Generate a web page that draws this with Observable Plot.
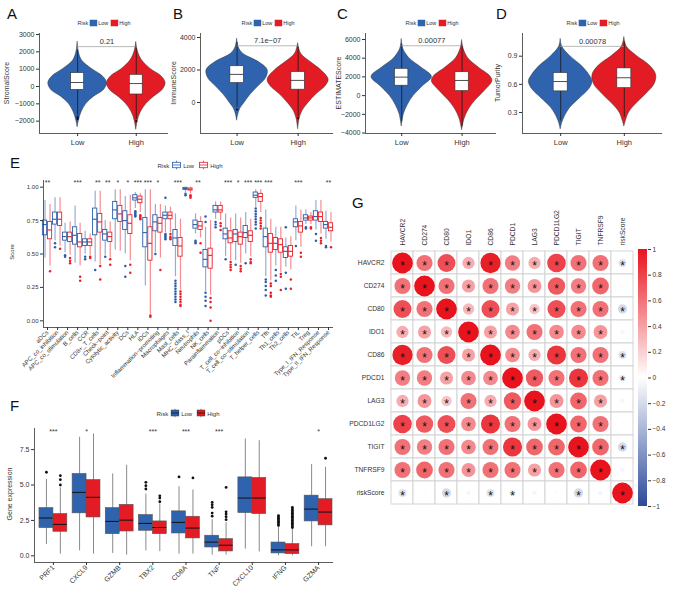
<!DOCTYPE html>
<html><head><meta charset="utf-8">
<script src="https://cdn.jsdelivr.net/npm/d3@7"></script>
<script src="https://cdn.jsdelivr.net/npm/@observablehq/plot@0.6"></script>
<style>
body{margin:0;background:#fff;font-family:"Liberation Sans",Arial,sans-serif;}
#fig{position:relative;width:675px;height:592px;overflow:hidden;background:#fff}
.plab{position:absolute;font-size:15px;line-height:1;color:#111}
.ylab{position:absolute;transform:translate(-50%,-50%) rotate(-90deg);white-space:nowrap;color:#333;line-height:1}
.leg{position:absolute;display:flex;align-items:center;white-space:nowrap;color:#333;transform:translate(-50%,-50%);line-height:1}
.leg svg{display:block}
</style></head><body><div id="fig"></div>
<script>
// ---------------- DATA ----------------
const riskGroups = ["Low", "High"];

// A: StromalScore  (violin profile: [value, relative half-width])
const stromalViolinLow  = [[2560,0],[2000,0.04],[1500,0.15],[1000,0.5],[600,0.85],[200,1],[-200,0.9],[-600,0.55],[-1000,0.3],[-1500,0.13],[-2000,0.04],[-2350,0]];
const stromalViolinHigh = [[2550,0],[2000,0.06],[1500,0.2],[1000,0.5],[600,0.85],[200,1],[-200,0.9],[-600,0.6],[-1000,0.35],[-1500,0.15],[-2000,0.05],[-2500,0]];
const stromalBoxLow  = [-1700,-190,230,770,2100];
const stromalBoxHigh = [-1900,-460,170,670,2200];
const stromalOutLow  = [-1760,-1820,-1880];
const stromalOutHigh = [-2000];
const stromalTicks = [-2000,-1000,0,1000,2000,3000];

// B: ImmuneScore
const immuneViolinLow  = [[3900,0],[3400,0.05],[3000,0.2],[2500,0.7],[2000,1.0],[1500,0.95],[1000,0.7],[500,0.45],[0,0.25],[-400,0.1],[-800,0.03],[-1120,0]];
const immuneViolinHigh = [[3630,0],[3000,0.1],[2500,0.4],[2000,0.75],[1400,1.0],[1000,0.9],[500,0.6],[0,0.35],[-500,0.15],[-1000,0.05],[-1650,0]];
const immuneBoxLow  = [-300,1200,1730,2230,3700];
const immuneBoxHigh = [-900,790,1360,1870,3400];
const immuneOutLow  = [-430];
const immuneOutHigh = [-975];
const immuneTicks = [0,2000,4000];

// C: ESTIMATEScore
const estimateViolinLow  = [[6000,0],[5000,0.05],[4000,0.25],[3000,0.65],[2000,1.0],[1000,0.7],[0,0.4],[-1000,0.2],[-2000,0.07],[-3300,0]];
const estimateViolinHigh = [[5900,0],[5000,0.05],[4000,0.2],[3000,0.55],[2000,0.95],[1500,1.0],[500,0.75],[-500,0.45],[-1500,0.22],[-2500,0.08],[-3700,0]];
const estimateBoxLow  = [-2800,1060,1975,2860,5500];
const estimateBoxHigh = [-3300,490,1620,2500,5300];
const estimateTicks = [-4000,-2000,0,2000,4000,6000];

// D: TumorPurity
const purityViolinLow  = [[1.08,0],[1.0,0.05],[0.9,0.3],[0.8,0.65],[0.7,0.9],[0.63,1.0],[0.55,0.9],[0.45,0.6],[0.35,0.3],[0.25,0.12],[0.18,0.04],[0.12,0]];
const purityViolinHigh = [[1.1,0],[1.0,0.08],[0.9,0.4],[0.8,0.8],[0.7,1.0],[0.6,0.95],[0.5,0.7],[0.4,0.4],[0.3,0.15],[0.2,0.04],[0.15,0]];
const purityBoxLow  = [0.21,0.525,0.63,0.72,0.99];
const purityBoxHigh = [0.25,0.56,0.67,0.77,1.05];
const purityTicks = [0.3,0.6,0.9];

const pValues = ["0.21","7.1e\u221207","0.00077","0.00078"];

// E: ssGSEA scores, [lower whisker, q1, median, q3, upper whisker]
const eCats = ["aDCs","APC_co_inhibition","APC_co_stimulation","B_cells","CCR","CD8+_T_cells","Check\u2212point","Cytolytic_activity","DCs","HLA","iDCs","Inflammation\u2212promoting","Macrophages","Mast_cells","MHC_class_I","Neutrophils","NK_cells","Parainflammation","pDCs","T_cell_co\u2212inhibition","T_cell_co\u2212stimulation","T_helper_cells","Tfh","Th1_cells","Th2_cells","TIL","Treg","Type_I_IFN_Response","Type_II_IFN_Response"];
const eLow = [[.47,.64,.72,.75,.90],[.60,.72,.76,.81,.92],[.51,.60,.63,.66,.73],[.43,.57,.64,.70,.86],[.50,.56,.59,.61,.67],[.44,.64,.76,.84,.97],[.49,.60,.65,.68,.75],[.53,.76,.83,.89,.98],[.50,.68,.75,.82,.93],[.84,.90,.92,.94,.96],[.26,.55,.66,.77,.98],[.51,.67,.74,.79,.87],[.66,.76,.79,.81,.86],[.33,.56,.62,.68,.80],[.96,.98,.99,.995,1.0],[.65,.69,.72,.75,.80],[.22,.40,.46,.53,.70],[.76,.81,.83,.86,.89],[.48,.61,.65,.69,.80],[.45,.59,.65,.68,.80],[.50,.62,.66,.71,.81],[.85,.92,.94,.96,.98],[.33,.55,.63,.69,.83],[.41,.53,.58,.62,.70],[.40,.47,.52,.55,.62],[.60,.70,.74,.76,.86],[.72,.75,.77,.79,.83],[.68,.75,.78,.82,.90],[.61,.69,.72,.74,.82]];
const eHigh = [[.41,.61,.68,.74,.87],[.56,.71,.76,.81,.92],[.49,.59,.63,.66,.74],[.41,.55,.59,.65,.73],[.49,.56,.59,.61,.65],[.42,.66,.74,.80,.97],[.47,.59,.63,.66,.74],[.52,.74,.80,.86,.98],[.45,.65,.73,.79,.94],[.81,.88,.91,.93,.95],[.05,.45,.58,.70,.98],[.47,.66,.73,.77,.87],[.66,.76,.79,.81,.85],[.23,.48,.56,.62,.76],[.95,.975,.985,.99,1.0],[.62,.68,.71,.74,.78],[.19,.39,.49,.54,.75],[.75,.81,.83,.86,.89],[.45,.58,.62,.67,.77],[.43,.57,.63,.66,.77],[.48,.59,.64,.67,.76],[.81,.89,.93,.95,.98],[.30,.51,.58,.65,.76],[.36,.51,.57,.61,.70],[.38,.48,.52,.56,.63],[.55,.66,.71,.74,.83],[.72,.75,.77,.78,.81],[.65,.74,.78,.81,.90],[.59,.67,.70,.73,.81]];
const eLowOut = [[],[.58,.55],[.49,.48],[],[.48,.46],[.38],[.48],[],[.41,.33],[.82,.81,.80,.79,.78],[],[.50],[.92,.65,.64,.63,.62,.61],[.30,.28,.26,.24,.22,.20,.18,.16,.14],[.95,.94],[.60,.59,.58],[.78,.74,.21,.18,.15,.11],[.74,.72,.70],[.46],[.42],[.43],[.84,.82,.80,.78,.76,.74,.72,.69],[.31,.29,.26,.23,.19],[.38,.34,.30],[.70,.36,.24],[.56],[.70,.69],[.65,.60],[.56,.55]];
const eHighOut = [[.37],[.54],[.47,.45,.43],[.33,.30],[.48,.47],[.41,.31],[.46,.42],[],[.42,.36],[.79,.78,.77,.76],[.04,.03],[.38],[.65,.63,.62,.61],[.22,.20,.18,.16,.14,.12,.11],[.94,.93,.92],[.58,.51],[.17,.14,.10,.00],[.73,.71,.68],[.44,.42,.40,.38],[.41,.39,.37],[.46,.44,.43],[.77,.75,.73,.71,.69],[.28,.26,.21,.19,.18],[.35,.33,.23],[.31,.24],[.51,.48],[.70,.69],[.62,.60,.58],[.55]];
const eStars = ["**","","","***","","**","**","*","*","***","***","*","","***","","**","","","***","*","***","***","***","","","***","","","**"];
const eTicks = [0,0.25,0.5,0.75,1];

// F: gene expression
const fGenes = ["PRF1","CXCL9","GZMB","TBX2","CD8A","TNF","CXCL10","IFNG","GZMA"];
const fLow  = [[0.8,1.96,2.67,3.37,5.4],[0.35,3.0,4.48,5.78,8.37],[0.17,1.53,2.43,3.37,5.78],[0.35,1.77,2.29,2.88,4.36],[0.12,1.58,2.36,3.14,4.88],[0.05,0.59,0.97,1.42,2.55],[0.47,3.02,4.08,5.54,8.25],[0,0.17,0.42,0.94,2.05],[0.64,2.43,3.30,4.25,6.44]];
const fHigh = [[0.12,1.70,2.22,2.95,4.8],[0.12,2.71,4.13,5.35,8.6],[0.05,1.72,2.52,3.6,6.4],[0.3,1.53,2.0,2.43,3.65],[0.12,1.23,1.96,2.76,4.65],[0.05,0.31,0.75,1.18,2.35],[0.28,2.95,4.08,5.5,8.13],[0,0.12,0.42,0.83,1.95],[0.64,2.15,3.09,4.0,6.25]];
const fLowOut  = [[5.9],[],[],[5.19,4.95,4.72],[5.57],[3.77,3.6,3.42,3.02,2.8],[],[2.15,2.25,2.35,2.45,2.55,2.65,2.75,2.83],[]];
const fHighOut = [[5.66,5.38,5.0],[],[],[4.24,4.08,3.82],[5.5],[4.83,3.11,2.95,2.76,2.55],[],[2.0,2.1,2.2,2.3,2.4,2.5,2.6,2.7,2.8,2.9,3.0,3.1,3.2,3.3,3.42],[6.89]];
const fStars = ["***","*","","***","***","***","","","*"];
const fTicks = [0,2.5,5,7.5];

// G: correlation matrix
const gGenes = ["HAVCR2","CD274","CD80","IDO1","CD86","PDCD1","LAG3","PDCD1LG2","TIGIT","TNFRSF9","riskScore"];
const gCorr = [
 [1,.6,.75,.35,.95,.55,.35,.8,.6,.6,-.15],
 [.6,1,.6,.4,.6,.55,.45,.7,.55,.65,-.02],
 [.75,.6,1,.3,.75,.4,.25,.75,.6,.6,-.2],
 [.35,.4,.3,1,.4,.5,.6,.5,.5,.45,-.05],
 [.95,.6,.75,.4,1,.5,.35,.85,.6,.6,-.15],
 [.55,.55,.4,.5,.5,1,.7,.6,.85,.6,-.1],
 [.35,.45,.25,.6,.35,.7,1,.45,.65,.4,-.05],
 [.8,.7,.75,.5,.85,.6,.45,1,.65,.6,-.02],
 [.6,.55,.6,.5,.6,.85,.65,.65,1,.65,-.2],
 [.6,.65,.6,.45,.6,.6,.4,.6,.65,1,-.05],
 [-.15,-.02,-.2,-.05,-.15,-.1,-.05,-.02,-.2,-.05,1]
];
const gNotSigWithRisk = ["CD274","IDO1","LAG3","PDCD1LG2","TNFRSF9"];
const gTicks = [-1,-0.8,-0.6,-0.4,-0.2,0,0.2,0.4,0.6,0.8,1];

// ---------------- STYLE ----------------
const FONT = "Liberation Sans, Arial, sans-serif";
const vBlue = "#2F63AD", vRed = "#E31B24";
const eBlue = "#2D5DA8", eRed = "#E8202A";
const cBlue = "#2B4A99", cRed = "#E8131C";

const fig = document.getElementById("fig");
function put(el, left, top){ el.style.position="absolute"; el.style.left=left+"px"; el.style.top=top+"px"; fig.appendChild(el); return el; }
function div(cls, text, css){ const d=document.createElement("div"); d.className=cls; if(text!=null) d.textContent=text; Object.assign(d.style, css||{}); fig.appendChild(d); return d; }
function plab(t, l, tp){ div("plab", t, {left:l+"px", top:tp+"px"}); }
function ylab(t, cx, cy, fs){ div("ylab", t, {left:cx+"px", top:cy+"px", fontSize:fs+"px"}); }

function icon(kind, color, w, h){
  const ns="http://www.w3.org/2000/svg";
  const s=document.createElementNS(ns,"svg"); s.setAttribute("width",w); s.setAttribute("height",h);
  const add=(tag,attrs)=>{const e=document.createElementNS(ns,tag); for(const k in attrs) e.setAttribute(k,attrs[k]); s.appendChild(e);};
  if(kind==="fill"){ add("rect",{x:0,y:0,width:w,height:h,fill:color}); }
  else if(kind==="outline"){
    add("line",{x1:w/2,x2:w/2,y1:0,y2:h,stroke:color,"stroke-width":0.8});
    add("rect",{x:1,y:1.8,width:w-2,height:h-3.6,fill:"white",stroke:color,"stroke-width":0.8});
    add("line",{x1:1,x2:w-1,y1:h/2,y2:h/2,stroke:color,"stroke-width":0.8});
  } else {
    add("line",{x1:w/2,x2:w/2,y1:0,y2:h,stroke:"#777","stroke-width":0.8});
    add("rect",{x:0.5,y:1.5,width:w-1,height:h-3,fill:color,stroke:"#333","stroke-width":0.5});
    add("line",{x1:0.5,x2:w-0.5,y1:h/2,y2:h/2,stroke:"#111","stroke-width":0.8});
  }
  return s;
}
function legend(cx, cy, fs, kind, colors, w, h, gap){
  const d=div("leg", null, {left:cx+"px", top:cy+"px", fontSize:fs+"px", fontFamily:FONT});
  const sp=(t,ml)=>{const e=document.createElement("span"); e.textContent=t; e.style.marginLeft=ml+"px"; d.appendChild(e);};
  sp("Risk",0);
  const i1=icon(kind,colors[0],w,h); i1.style.marginLeft=gap+"px"; d.appendChild(i1);
  sp(riskGroups[0],gap);
  const i2=icon(kind,colors[1],w,h); i2.style.marginLeft=(gap*2)+"px"; d.appendChild(i2);
  sp(riskGroups[1],gap);
}

// ---------------- VIOLIN PANELS ----------------
function violinPanel(o){
  const mL=42, mR=6, mT=6, mB=26;
  const W=o.x1-o.x0, H=o.y1-o.y0, HW=0.5, bw=0.11;
  const rows=(prof,c)=>prof.map(([v,w])=>({v, lo:c-w*HW, hi:c+w*HW}));
  const boxRows=[{c:1,s:o.boxLow},{c:2,s:o.boxHigh}];
  const outRows=[...o.outLow.map(v=>({c:1,v})), ...o.outHigh.map(v=>({c:2,v}))];
  const chart=Plot.plot({
    width:W+mL+mR, height:H+mT+mB, marginLeft:mL, marginRight:mR, marginTop:mT, marginBottom:mB,
    style:{fontFamily:FONT, fontSize:"7px", color:"#333", background:"transparent", overflow:"visible"},
    x:{domain:o.xdom}, y:{domain:o.ydom},
    marks:[
      Plot.areaX(rows(o.violinLow,1),{y:"v",x1:"lo",x2:"hi",fill:vBlue,stroke:"#333",strokeWidth:0.5,curve:"catmull-rom"}),
      Plot.areaX(rows(o.violinHigh,2),{y:"v",x1:"lo",x2:"hi",fill:vRed,stroke:"#333",strokeWidth:0.5,curve:"catmull-rom"}),
      Plot.ruleX(boxRows,{x:"c",y1:d=>d.s[0],y2:d=>d.s[4],stroke:"#1a1a1a",strokeWidth:0.8}),
      Plot.rect(boxRows,{x1:d=>d.c-bw,x2:d=>d.c+bw,y1:d=>d.s[1],y2:d=>d.s[3],fill:"white",stroke:"#333",strokeWidth:0.6}),
      Plot.ruleY(boxRows,{y:d=>d.s[2],x1:d=>d.c-bw,x2:d=>d.c+bw,stroke:"#222",strokeWidth:0.8}),
      Plot.dot(outRows,{x:"c",y:"v",r:1.1,fill:"#111",stroke:null}),
      Plot.ruleY([o.py],{x1:1,x2:2,stroke:"#999",strokeWidth:0.7}),
      Plot.text([o.p],{x:1.5,y:o.py,dy:-5,fontSize:7.5,fill:"#333"}),
      Plot.ruleX([o.xdom[0]],{stroke:"#333",strokeWidth:0.8}),
      Plot.ruleY([o.ydom[0]],{stroke:"#333",strokeWidth:0.8}),
      Plot.axisY({ticks:o.yticks,tickFormat:o.yfmt,tickSize:3,tickPadding:2,label:null,fontSize:7}),
      Plot.axisX({ticks:[1,2],tickFormat:d=>riskGroups[d-1],tickSize:3,tickPadding:3,label:null,fontSize:7.5})
    ]
  });
  put(chart, o.x0-mL, o.y0-mT);
}

violinPanel({x0:39,x1:168,y0:33,y1:133,xdom:[0.35,2.55],ydom:[-2712,3058],yticks:stromalTicks,yfmt:d3.format("d"),
  violinLow:stromalViolinLow,violinHigh:stromalViolinHigh,boxLow:stromalBoxLow,boxHigh:stromalBoxHigh,outLow:stromalOutLow,outHigh:stromalOutHigh,p:pValues[0],py:2300});
violinPanel({x0:200,x1:333,y0:33,y1:133,xdom:[0.4,2.58],ydom:[-1908,4246],yticks:immuneTicks,yfmt:d3.format("d"),
  violinLow:immuneViolinLow,violinHigh:immuneViolinHigh,boxLow:immuneBoxLow,boxHigh:immuneBoxHigh,outLow:immuneOutLow,outHigh:immuneOutHigh,p:pValues[1],py:3490});
violinPanel({x0:365,x1:496,y0:33,y1:133,xdom:[0.4,2.57],ydom:[-4050,6640],yticks:estimateTicks,yfmt:d3.format("d"),
  violinLow:estimateViolinLow,violinHigh:estimateViolinHigh,boxLow:estimateBoxLow,boxHigh:estimateBoxHigh,outLow:[],outHigh:[],p:pValues[2],py:5330});
violinPanel({x0:522,x1:662,y0:33,y1:133,xdom:[0.4,2.6],ydom:[0.076,1.142],yticks:purityTicks,yfmt:d3.format(".1f"),
  violinLow:purityViolinLow,violinHigh:purityViolinHigh,boxLow:purityBoxLow,boxHigh:purityBoxHigh,outLow:[],outHigh:[],p:pValues[3],py:1.005});

plab("A",7,6); plab("B",173,6); plab("C",337,6); plab("D",496,6);
ylab("StromalScore",6,83,7); ylab("ImmuneScore",173,83,7); ylab("ESTIMATEScore",338,83,7); ylab("TumorPurity",497,83,7);
legend(104,23,5.5,"fill",[vBlue,vRed],8,7,1);
legend(268,23,5.5,"fill",[vBlue,vRed],8,7,1);
legend(432,23,5.5,"fill",[vBlue,vRed],8,7,1);
legend(593,23,5.5,"fill",[vBlue,vRed],8,7,1);

// ---------------- PANEL E ----------------
(function(){
  const x0=43,x1=333,y0=180,y1=327, mL=38,mR=6,mT=4,mB=70;
  const rows=[];
  eCats.forEach((c,i)=>{ rows.push({i,g:0,s:eLow[i],out:eLowOut[i]}); rows.push({i,g:1,s:eHigh[i],out:eHighOut[i]}); });
  const off=g=>g?0.25:-0.25, hb=0.21;
  const mk=(g,col)=>{
    const r=rows.filter(d=>d.g===g);
    const outs=r.flatMap(d=>d.out.map(v=>({x:d.i+off(g),v})));
    return [
      Plot.ruleX(r,{x:d=>d.i+off(g),y1:d=>d.s[0],y2:d=>d.s[4],stroke:col,strokeOpacity:0.5,strokeWidth:1.2}),
      Plot.rect(r,{x1:d=>d.i+off(g)-hb,x2:d=>d.i+off(g)+hb,y1:d=>d.s[1],y2:d=>d.s[3],fill:"white",stroke:col,strokeWidth:0.9}),
      Plot.ruleY(r,{y:d=>d.s[2],x1:d=>d.i+off(g)-hb,x2:d=>d.i+off(g)+hb,stroke:col,strokeWidth:1.1}),
      Plot.dot(outs,{x:"x",y:"v",r:1.25,fill:col,stroke:null})
    ];
  };
  const chart=Plot.plot({
    width:(x1-x0)+mL+mR, height:(y1-y0)+mT+mB, marginLeft:mL, marginRight:mR, marginTop:mT, marginBottom:mB,
    style:{fontFamily:FONT,fontSize:"6px",color:"#333",background:"transparent",overflow:"visible"},
    x:{domain:[-0.4,28.5]}, y:{domain:[-0.05,1.05]},
    marks:[
      ...mk(0,eBlue), ...mk(1,eRed),
      Plot.text(eCats.map((c,i)=>({i,t:eStars[i]})).filter(d=>d.t),{x:"i",y:1.035,text:"t",fontSize:7,fill:"#333"}),
      Plot.ruleX([-0.4],{stroke:"#333",strokeWidth:0.8}),
      Plot.ruleY([-0.05],{stroke:"#333",strokeWidth:0.8}),
      Plot.axisY({ticks:eTicks,tickFormat:d3.format(".2f"),tickSize:3,tickPadding:2,label:null,fontSize:6}),
      Plot.axisX({ticks:d3.range(eCats.length),tickFormat:i=>eCats[i],tickSize:3,tickPadding:1,tickRotate:-45,label:null,fontSize:6})
    ]
  });
  put(chart,x0-mL,y0-mT);
})();
plab("E",10,155);
ylab("Score",12,252,6);
legend(190,165,6,"outline",[eBlue,eRed],10,9,2);

// ---------------- PANEL F ----------------
(function(){
  const x0=34,x1=333,y0=428,y1=562, mL=28,mR=6,mT=4,mB=40;
  const hb=0.42;
  const mk=(stats,outs,g,col)=>{
    const r=stats.map((s,i)=>({i,s,x:g?i+hb/2:i-hb/2}));
    const o=outs.flatMap((a,i)=>a.map(v=>({x:g?i+hb/2:i-hb/2,v})));
    return [
      Plot.ruleX(r,{x:"x",y1:d=>d.s[0],y2:d=>d.s[4],stroke:"#8a8a8a",strokeWidth:1}),
      Plot.rect(r,{x1:d=>g?d.i:d.i-hb,x2:d=>g?d.i+hb:d.i,y1:d=>d.s[1],y2:d=>d.s[3],fill:col,stroke:"#555",strokeWidth:0.6}),
      Plot.ruleY(r,{y:d=>d.s[2],x1:d=>g?d.i:d.i-hb,x2:d=>g?d.i+hb:d.i,stroke:"#111",strokeWidth:1}),
      Plot.dot(o,{x:"x",y:"v",r:1.4,fill:"#111",stroke:null})
    ];
  };
  const chart=Plot.plot({
    width:(x1-x0)+mL+mR, height:(y1-y0)+mT+mB, marginLeft:mL, marginRight:mR, marginTop:mT, marginBottom:mB,
    style:{fontFamily:FONT,fontSize:"7px",color:"#333",background:"transparent",overflow:"visible"},
    x:{domain:[-0.57,8.45]}, y:{domain:[-0.47,8.99]},
    marks:[
      ...mk(fLow,fLowOut,0,vBlue), ...mk(fHigh,fHighOut,1,vRed),
      Plot.text(fGenes.map((c,i)=>({i,t:fStars[i]})).filter(d=>d.t),{x:"i",y:8.78,text:"t",fontSize:7,fill:"#333"}),
      Plot.ruleX([-0.57],{stroke:"#333",strokeWidth:0.8}),
      Plot.ruleY([-0.47],{stroke:"#333",strokeWidth:0.8}),
      Plot.axisY({ticks:fTicks,tickFormat:d3.format(".1f"),tickSize:3,tickPadding:2,label:null,fontSize:7}),
      Plot.axisX({ticks:d3.range(fGenes.length),tickFormat:i=>fGenes[i],tickSize:3,tickPadding:1,tickRotate:-45,label:null,fontSize:7})
    ]
  });
  put(chart,x0-mL,y0-mT);
})();
plab("F",10,398);
ylab("Gene expression",9,494,7);
legend(188,413,6,"box",[vBlue,vRed],9,9,2);

// ---------------- PANEL G ----------------
(function(){
  const x0=389,x1=634,y0=249,y1=506, mL=50,mR=2,mT=60,mB=2;
  const cells=[];
  gGenes.forEach((r,ri)=>gGenes.forEach((c,ci)=>{
    const risk = r==="riskScore"||c==="riskScore";
    const other = r==="riskScore"?c:r;
    const sig = !(risk && gNotSigWithRisk.includes(other));
    cells.push({row:r,col:c,v:gCorr[ri][ci],sig});
  }));
  const chart=Plot.plot({
    width:(x1-x0)+mL+mR, height:(y1-y0)+mT+mB, marginLeft:mL, marginRight:mR, marginTop:mT, marginBottom:mB,
    style:{fontFamily:FONT,fontSize:"6.7px",color:"#333",background:"transparent",overflow:"visible"},
    x:{domain:gGenes,padding:0}, y:{domain:gGenes,padding:0},
    r:{domain:[0,1],range:[0,10.4]},
    color:{type:"linear",domain:[-1,0,1],range:[cBlue,"#ffffff",cRed],interpolate:"rgb"},
    marks:[
      Plot.cell(cells,{x:"col",y:"row",fill:"white",stroke:"#d0d0d0",strokeWidth:0.9}),
      Plot.dot(cells,{x:"col",y:"row",r:d=>Math.abs(d.v),fill:"v",stroke:null}),
      Plot.text(cells.filter(d=>d.sig),{x:"col",y:"row",text:()=>"*",fontSize:12,dy:3,fill:"#111"}),
      Plot.axisX({anchor:"top",tickSize:0,tickPadding:4,tickRotate:-90,label:null}),
      Plot.axisY({anchor:"left",tickSize:0,tickPadding:5,label:null})
    ]
  });
  put(chart,x0-mL,y0-mT);

  // colour bar
  const ns="http://www.w3.org/2000/svg";
  const defs=()=>{
    const d=document.createElementNS(ns,"defs");
    const lg=document.createElementNS(ns,"linearGradient");
    lg.setAttribute("id","cbgrad"); lg.setAttribute("x1","0"); lg.setAttribute("x2","0"); lg.setAttribute("y1","1"); lg.setAttribute("y2","0");
    [[0,cBlue],[0.5,"#ffffff"],[1,cRed]].forEach(([o,c])=>{const s=document.createElementNS(ns,"stop"); s.setAttribute("offset",o); s.setAttribute("stop-color",c); lg.appendChild(s);});
    d.appendChild(lg); return d;
  };
  const cb=Plot.plot({
    width:9+30, height:(y1-y0)+10, marginLeft:0, marginRight:30, marginTop:5, marginBottom:5,
    style:{fontFamily:FONT,fontSize:"6.5px",color:"#333",background:"transparent",overflow:"visible"},
    x:{domain:[0,1],axis:null}, y:{domain:[-1,1]},
    marks:[
      defs,
      Plot.rect([0],{x1:0,x2:1,y1:-1,y2:1,fill:"url(#cbgrad)"}),
      Plot.axisY({anchor:"right",ticks:gTicks,tickFormat:d=>d3.format("~g")(d).replace("-","\u2212"),tickSize:3,tickPadding:2,label:null})
    ]
  });
  put(cb,638,y0-5);
})();
plab("G",352,195);
</script></body></html>
